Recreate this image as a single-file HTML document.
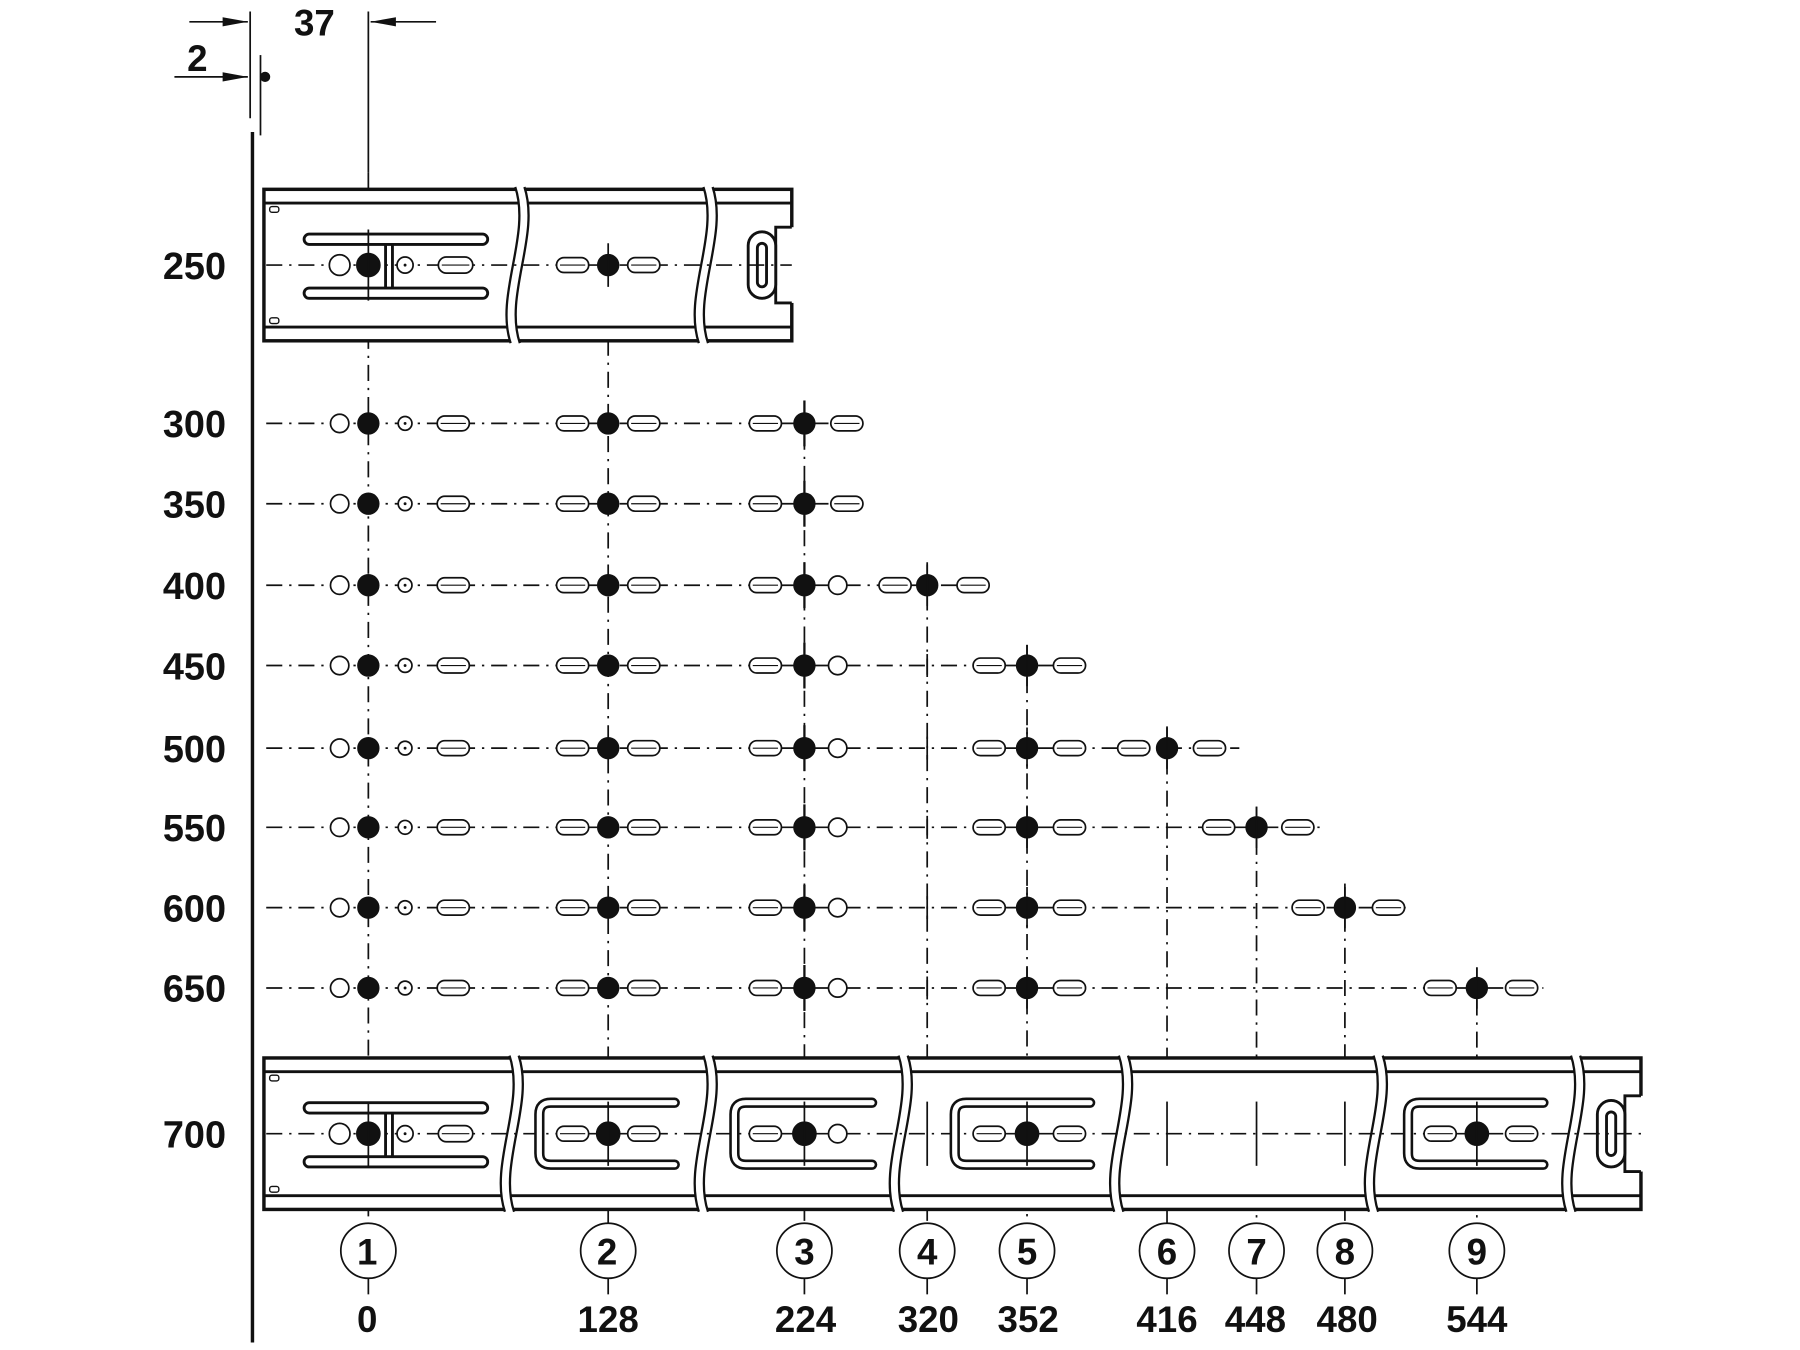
<!DOCTYPE html>
<html><head><meta charset="utf-8"><style>
html,body{margin:0;padding:0;background:#fff;}
svg{display:block;}
text{font-family:"Liberation Sans",sans-serif;font-weight:bold;fill:#111;}
</style></head><body>
<svg id="s" width="1800" height="1350" viewBox="0 0 1568.6 1176.5" preserveAspectRatio="none" xmlns="http://www.w3.org/2000/svg">
<g id="g" stroke="#111" fill="none"></g>
<g font-size="33" text-anchor="end">
<text x="197" y="243">250</text><text x="197" y="381">300</text><text x="197" y="451">350</text>
<text x="197" y="522">400</text><text x="197" y="592">450</text><text x="197" y="664">500</text>
<text x="197" y="733">550</text><text x="197" y="803">600</text><text x="197" y="873">650</text>
<text x="197" y="1000">700</text>
</g>
<g font-size="32" text-anchor="middle">
<text x="274" y="31">37</text><text x="172" y="62">2</text>
<text x="320" y="1102">1</text><text x="529" y="1102">2</text><text x="701" y="1102">3</text>
<text x="808" y="1102">4</text><text x="895" y="1102">5</text><text x="1017" y="1102">6</text>
<text x="1095" y="1102">7</text><text x="1172" y="1102">8</text><text x="1287" y="1102">9</text>
<text x="320" y="1161">0</text><text x="530" y="1161">128</text><text x="702" y="1161">224</text>
<text x="809" y="1161">320</text><text x="896" y="1161">352</text><text x="1017" y="1161">416</text>
<text x="1094" y="1161">448</text><text x="1174" y="1161">480</text><text x="1287" y="1161">544</text>
</g>
</svg>
<script>
const g=document.getElementById('g');let h='';
const DD='14 6 2 6';
function L(x1,y1,x2,y2,w,d){h+=`<line x1="${x1}" y1="${y1}" x2="${x2}" y2="${y2}" stroke-width="${w||1.5}"${d?` stroke-dasharray="${d}"`:''}/>`;}
function C(x,y,r,f,w){h+=`<circle cx="${x}" cy="${y}" r="${r}" stroke-width="${w||1.5}" fill="${f?'#111':'#fff'}"/>`;}
function O(x,y,wd,ht){h+=`<rect x="${x-wd/2}" y="${y-ht/2}" width="${wd}" height="${ht}" rx="${ht/2}" fill="#fff" stroke-width="1.5"/><line x1="${x-wd/2+3}" y1="${y}" x2="${x+wd/2-3}" y2="${y}" stroke-width="1"/>`;}
function A(x1,x2,y){
 L(x1,y,x2,y,1.5);const d=x2>x1?-1:1;h+=`<polygon points="${x2},${y} ${x2+d*22},${y-4} ${x2+d*22},${y+4}" fill="#111" stroke="none"/>`;}
L(218,10,218,103,1.5);L(227,48,227,118,1.5);L(321,10,321,150,1.5);
A(165,216,19);A(380,323,19);A(152,216,67);C(231,67,4,1,1);
L(220,115,220,1170,3);
const cols=[321,530,701,808,895,1017,1095,1172,1287];
const starts=[150,212,350,490,562,633,703,770,843];
cols.forEach((x,i)=>{L(x,starts[i],x,1066,1.5,DD);C(x,1090,24,0,1.5);L(x,1114,x,1128,1.5);});
const rows=[[369,755,3],[439,755,3],[510,865,4],[580,945,5],[652,1080,6],[721,1150,7],[791,1225,8],[861,1345,9]];
rows.forEach(([y,end,n],ri)=>{
 L(232,y,end,y,1.5,DD);
 C(296,y,8,0);C(321,y,9,1);C(353,y,6,0);C(353,y,1,1,0.5);O(395,y,28,13);
 O(499,y,28,13);C(530,y,9,1);O(561,y,28,13);
 O(667,y,28,13);C(701,y,9,1);if(ri<2)O(738,y,28,13);else C(730,y,8,0);
 L(701,y-20,701,y+20,2);
 if(ri==2){O(780,y,28,13);C(808,y,9,1);O(848,y,28,13);L(808,y-18,808,y+18,1.5);}
 if(ri>=3){O(862,y,28,13);C(895,y,9,1);O(932,y,28,13);L(895,y-18,895,y+18,1.5);}
 const spec={4:[1017,988,1054],5:[1095,1062,1131],6:[1172,1140,1210],7:[1287,1255,1326]};
 if(spec[ri]){const [cx,a,b]=spec[ri];O(a,y,28,13);C(cx,y,9,1);O(b,y,28,13);L(cx,y-18,cx,y+18,1.5);}
 if(ri>=3&&ri<=7) L(808,y-10,808,y+10,1.5);
});
function rail(x0,x1,top,bot,breaks){
 h+=`<rect x="${x0}" y="${top}" width="${x1-x0}" height="${bot-top}" fill="#fff" stroke-width="3"/>`;
 L(x0,top+12,x1,top+12,2.5);L(x0,bot-12,x1,bot-12,2.5);
 const cy=(top+bot)/2;
 h+=`<rect x="${x1-14}" y="${cy-33}" width="16" height="66" fill="#fff" stroke="none"/>`;
 h+=`<polyline points="${x1},${cy-33} ${x1-14},${cy-33} ${x1-14},${cy+33} ${x1},${cy+33}" stroke-width="2.5"/>`;
 h+=`<rect x="${x1-38}" y="${cy-29}" width="24" height="58" rx="12" fill="#fff" stroke-width="2.5"/>`;
 h+=`<rect x="${x1-30}" y="${cy-19}" width="8" height="38" rx="4" fill="#fff" stroke-width="2.5"/>`;
 breaks.forEach(b=>{
  h+=`<path d="M${b+1},${top-2} C${b+15},${top+40} ${b-17},${bot-40} ${b-3},${bot+2} L${b+5},${bot+2} C${b-9},${bot-40} ${b+23},${top+40} ${b+9},${top-2}Z" fill="#fff" stroke="none"/>`;
  h+=`<path d="M${b+1},${top-2} C${b+15},${top+40} ${b-17},${bot-40} ${b-3},${bot+2}" stroke-width="2"/>`;
  h+=`<path d="M${b+9},${top-2} C${b+23},${top+40} ${b-9},${bot-40} ${b+5},${bot+2}" stroke-width="2"/>`;});
 h+=`<rect x="${x0+5}" y="${top+15}" width="8" height="5" rx="2" stroke-width="1.2"/><rect x="${x0+5}" y="${bot-20}" width="8" height="5" rx="2" stroke-width="1.2"/>`;
}
function seg1(y){
 h+=`<rect x="265" y="${y-27}" width="160" height="9" rx="4.5" fill="#fff" stroke-width="2.5"/>`;
 h+=`<rect x="265" y="${y+20}" width="160" height="9" rx="4.5" fill="#fff" stroke-width="2.5"/>`;
 L(336,y-18,336,y+20,2.5);L(342,y-18,342,y+20,2.5);
}
function U(xl,xr,y){
 const p=`M${xr},${y-27} L${xl+10},${y-27} Q${xl},${y-27} ${xl},${y-17} L${xl},${y+17} Q${xl},${y+27} ${xl+10},${y+27} L${xr},${y+27}`;
 h+=`<path d="${p}" stroke-width="9" stroke-linecap="round"/><path d="${p}" stroke-width="4.5" stroke="#fff" stroke-linecap="round"/>`;
}
rail(230,690,165,297,[448,612]);
seg1(231);
L(232,231,690,231,1.5,DD);
C(296,231,9,0);C(321,231,10,1);C(353,231,7,0);C(353,231,1,1,0.5);O(397,231,30,14);
O(499,231,28,13);C(530,231,9,1);O(561,231,28,13);
L(321,200,321,262,1.5);L(530,212,530,250,1.5);
rail(230,1430,922,1054,[443,612,782,974,1196,1368]);
seg1(988);
L(232,988,1430,988,1.5,DD);
C(296,988,9,0);C(321,988,10,1);C(353,988,7,0);C(353,988,1,1,0.5);O(397,988,30,14);
U(470,588,988);O(499,988,28,13);C(530,988,10,1);O(561,988,28,13);
U(640,760,988);O(667,988,28,13);C(701,988,10,1);C(730,988,8,0);
U(832,950,988);O(862,988,28,13);C(895,988,10,1);O(932,988,28,13);
U(1227,1345,988);O(1255,988,28,13);C(1287,988,10,1);O(1326,988,28,13);
cols.forEach(x=>L(x,960,x,1016,1.5));
g.innerHTML=h;
</script>
</body></html>
